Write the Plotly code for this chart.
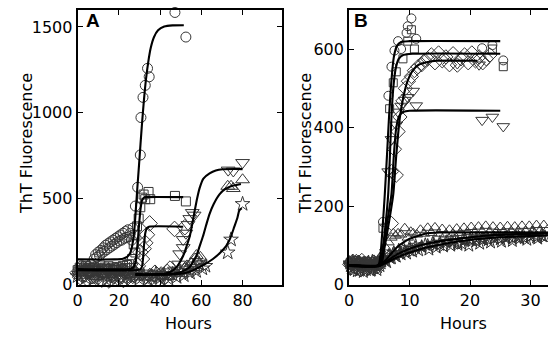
import plotly.graph_objects as go

# ---------------- Panel A data ----------------
A_circ_t = [0.5,2,3.5,5,6.5,8,8.7,9.3,10,10.6,11.2,11.8,12.4,13,13.6,14.2,14.8,15.4,16,16.6,17.2,17.8,18.4,19,19.6,20.2,20.8,21.4,22,22.6,23.2,23.8,24.4,25,25.6,26.2,26.8,28,29.1,30.4,30.7,31.7,32.8,33.9,34.7,47.2,52.5]
A_circ_v = [95,110,90,105,120,150,175,160,190,170,200,185,215,195,230,205,240,215,250,225,260,235,270,245,280,255,290,260,300,270,310,275,320,280,300,260,330,458,567,755,973,1090,1160,1259,1210,1584,1441]
A_circ_fit_t = [0,18,22,24,25.5,26.5,27.5,28.3,29,29.8,30.5,31.3,32.2,33.2,34.3,35.5,37,39,42,46,51.5]
A_circ_fit_v = [148,148,152,162,185,230,320,450,570,700,820,950,1080,1200,1300,1380,1440,1480,1502,1509,1510]

A_sq_t = [0,1,2,3,4,5,6,7,8,9,10,11,12,13,14,15,16,17,18,19,20,21,22,23,24,25,26.4,27.2,28,28,28.8,29.6,30.4,31.2,32,32.8,34.4,35.2,47.2,52.5]
A_sq_v = [85,100,78,95,110,82,98,90,105,80,96,112,88,100,84,108,92,99,86,104,95,90,110,98,115,120,150,235,188,291,340,385,451,507,525,498,540,498,517,485]
A_sq_fit_t = [0,25,27,28,29,29.8,30.5,31.2,32.2,33.5,51.2]
A_sq_fit_v = [92,92,100,130,230,350,440,490,507,510,510]

A_di_t = [0,1.2,2.4,3.5,4.6,5.8,7,8.2,9.4,10.5,11.7,12.8,14,15.2,16.4,17.5,18.7,19.8,21,22.2,23.4,24.5,25.7,26.8,28,29.2,30.4,31.2,32,32.8,33.6,34.9,36,37.5,39,40.5,42,43.5,44.8,47,52]
A_di_v = [70,45,88,60,35,75,50,92,40,65,30,80,55,25,70,48,85,38,60,28,75,45,90,52,68,110,190,150,210,244,291,357,45,70,35,60,42,75,94,325,335]
A_di_fit_t = [0,29,30.5,31.2,31.7,32.2,32.8,33.6,34.6,51.2]
A_di_fit_v = [85,86,92,105,150,230,300,330,338,338]

A_td_t = [0.5,2,3.5,5,6.5,8,9.5,11,12.5,14,15.5,17,18.5,20,21.5,23,24.5,26,27.5,29,31,33,35,37,39,41,43,45,47,49,49.5,51.2,51.2,52.5,53.5,54.4,55.6,56.5,73,75.5,80]
A_td_v = [60,85,50,95,70,40,88,62,100,55,78,45,92,65,38,80,58,105,48,72,55,40,68,50,62,45,75,58,85,120,180,216,263,300,350,385,420,405,667,662,711]
A_td_fit_t = [28,42,45,48,51.2,53,54.4,55.6,56.8,58,59.2,61,64,67,70.4,80]
A_td_fit_v = [62,64,75,103,169,230,282,355,432,505,564,618,648,665,672,673]

A_tu_t = [1,3,5,7,9,11,13,15,17,19,21,23,25,27,29,32,35,38,41,44,47,49,50.5,52,53,54,55,56,57,57.6,58.5,59.5,72.8,74.4,75.5,80]
A_tu_v = [75,55,90,62,48,80,58,95,45,70,52,85,60,78,50,45,62,40,55,48,70,85,65,95,110,80,125,100,150,170,135,160,573,573,560,611]
A_tu_fit_t = [28,45,49.6,52,54.4,56,57.6,59.2,60.8,62.4,64,66,68.8,71.5,74.4,77,79.2]
A_tu_fit_v = [60,62,71,85,103,135,169,225,282,350,413,470,526,556,573,580,586]

A_st_t = [0,2,4,6,8,10,12,14,16,18,20,22,24,26,28,30,32,34,36,38,40,42,44,46,48,50,51.5,53,54.5,56,57.5,59,60.5,62,72.8,74.4,80]
A_st_v = [50,72,40,65,35,80,55,30,68,45,75,38,60,42,70,35,55,30,48,65,40,58,35,62,45,75,55,90,70,105,80,120,95,110,188,263,470]
A_st_fit_t = [28,45,50,54,57.6,61,65.6,69,72,74,76,77.5,78.4,79.6]
A_st_fit_v = [58,60,65,75,94,115,150,185,225,270,338,390,432,445]

A_xticks = [0, 20, 40, 60, 80]
A_yticks = [0, 500, 1000, 1500]

# ---------------- Panel B data ----------------
B_circ_t = [0,0.5,1,1.5,2,2.5,3,3.5,4,4.5,5,5.6,6.5,7,7.5,8.1,8.6,9.5,9.7,10.3,11.1,22,23.7,25.5]
B_circ_v = [55,60,52,58,50,56,48,54,50,57,60,160,481,555,596,620,600,641,658,678,626,602,610,571]
B_circ_fit_t = [0,4.8,5.2,5.6,5.9,6.3,6.6,7,7.4,7.9,8.6,10,25]
B_circ_fit_v = [50,50,80,160,230,340,427,520,580,608,618,620,620]

B_sq_t = [0.2,0.7,1.2,1.7,2.2,2.7,3.2,3.7,4.2,4.7,5.2,5.6,6.7,7.3,7.8,8.9,9.7,10.3,10.8,23.7,25.5]
B_sq_v = [58,50,62,54,47,60,52,45,58,50,62,144,448,514,542,575,620,649,600,600,555]
B_sq_fit_t = [0,5,5.5,6,6.46,6.75,7,7.3,7.7,8.2,9,10.5,25]
B_sq_fit_v = [50,50,85,150,230,330,427,500,550,575,585,588,588]

B_di_t = [0.1,0.6,1.1,1.6,2.1,2.6,3.1,3.6,4.1,4.6,5.1,7.0,7.0,7.5,7.8,8.1,8.4,8.9,9.3,9.8,10.3,10.8,11.4,12,12.5,13,13.6,14.2,14.8,15.4,16,16.6,17.2,17.9,18.5,19.1,19.7,20.3,20.9,21.5,22.1,22.7,23.3]
B_di_v = [52,60,48,56,62,45,55,50,58,46,55,156,288,345,279,390,427,468,500,518,530,545,555,560,571,575,585,565,590,570,580,560,588,559,575,585,565,590,570,580,565,575,585]
B_di_fit_t = [0,5.2,5.8,6.6,7.3,7.8,8.4,9,9.7,10.5,11.5,13,14.5,21.2]
B_di_fit_v = [50,50,90,160,230,330,427,480,520,545,560,567,570,570]

B_td_t = [0.3,0.8,1.3,1.8,2.3,2.8,3.3,3.8,4.3,4.8,6.45,7,7.8,8.1,8.6,9.2,9.7,10.6,11.1,17.9,21.5,22,23.7,25.5]
B_td_v = [50,58,45,60,52,48,62,55,44,58,288,370,407,440,455,470,477,493,456,563,560,419,427,403]
B_td_fit_t = [0,5.1,5.6,6.3,7,7.4,7.8,8.3,9,10,25]
B_td_fit_v = [50,50,90,160,230,330,400,430,440,443,443]

B_tu_t = [0,0.4,0.8,1.2,1.6,2,2.4,2.8,3.2,3.6,4,4.4,4.8,5.2,5.6,6,6.5,7,7.3,7.7,8.1,8.6,9.2,9.7,10.2,10.6,
          11.2,11.8,12.4,13,13.6,14.2,14.8,15.4,16,16.6,17.2,17.8,18.4,19,19.6,20.2,20.8,21.4,22,22.6,
          23.2,23.8,24.4,25,25.6,26.2,26.8,27.4,28,28.6,29.2,29.8,30.4,31,31.6,32.2,32.8]
B_tu_v = [62,55,48,65,58,50,60,45,57,52,63,48,58,70,80,95,108,120,131,125,131,128,144,120,135,131,
          128,140,130,145,132,146,130,142,128,140,130,143,132,145,134,147,133,148,135,150,
          134,148,136,147,135,149,136,148,137,150,136,150,137,152,138,152,140]
B_tu_fit_t = [0,5,6,7,8,9,10,11.5,13,15,34]
B_tu_fit_v = [50,50,62,80,97,108,117,125,131,133,133]

B_st_t = [0.1,0.35,0.6,0.85,1.1,1.35,1.6,1.85,2.1,2.35,2.6,2.85,3.1,3.35,3.6,3.85,4.1,4.35,4.6,4.85,
          5.1,5.4,5.8,6.2,6.6,7,7.4,7.8,8.2,8.6,9,9.5,10,10.5,11,11.5,12,
          12.6,13.2,13.8,14.4,15,15.6,16.2,16.8,17.4,18,18.6,19.2,19.8,20.4,21,21.6,22.2,22.8,23.4,24,
          24.6,25.2,25.8,26.4,27,27.6,28.2,28.8,29.4,30,30.6,31.2,31.8,32.4,33]
B_st_v = [55,42,60,38,50,35,58,40,47,33,55,38,45,52,36,60,42,50,38,55,
          48,60,65,58,75,68,82,72,88,78,92,80,95,85,100,88,96,
          102,90,105,95,108,98,110,100,112,102,105,115,100,112,118,105,115,120,108,118,
          122,110,120,125,112,122,118,126,115,124,128,118,126,122,128]
B_st_fit_t = [0,5,6,7,8,9.7,11,13.6,16,19,22,24.5,28,34]
B_st_fit_v = [48,48,58,68,78,90,97,107,113,119,124,127,129,131]

B_st2_t = [0.2,0.7,1.2,1.7,2.2,2.7,3.2,3.7,4.2,4.7,5.3,6,6.8,7.6,8.4,9.2,10,11,12,13,14,15,16,17,18,19,20,21,22,23,24,25,26,27,28,29,30,31,32,33]
B_st2_v = [48,40,55,36,50,44,58,38,52,45,55,62,68,74,80,84,88,93,97,100,104,102,108,110,106,112,115,111,117,114,119,116,120,118,122,119,123,121,124,122]
B_st2_fit_t = [0,5,6,8,10,12,15,18,21,25,30,34]
B_st2_fit_v = [48,48,55,70,82,92,102,110,116,121,124,126]

B_xticks = [0, 10, 20, 30]
B_yticks = [0, 200, 400, 600]

MC = '#363636'

fig = go.Figure()

def marks(t, v, sym, size, xa, ya, col=MC):
    fig.add_trace(go.Scatter(x=t, y=v, mode='markers', xaxis=xa, yaxis=ya,
                             cliponaxis=False, showlegend=False,
                             marker=dict(symbol=sym, size=size, color=col,
                                         line=dict(color=col, width=1))))

def fit(t, v, xa, ya):
    fig.add_trace(go.Scatter(x=t, y=v, mode='lines', xaxis=xa, yaxis=ya,
                             cliponaxis=True, showlegend=False,
                             line=dict(color='black', width=2.1, shape='spline', smoothing=0.6)))

# Panel A markers
marks(A_di_t, A_di_v, 'diamond-open', 12, 'x', 'y')
marks(A_sq_t, A_sq_v, 'square-open', 9, 'x', 'y')
marks(A_td_t, A_td_v, 'triangle-down-open', 12, 'x', 'y')
marks(A_tu_t, A_tu_v, 'triangle-up-open', 12, 'x', 'y')
marks(A_st_t, A_st_v, 'star-open', 11, 'x', 'y')
marks(A_circ_t, A_circ_v, 'circle-open', 10, 'x', 'y')
for t, v in [(A_circ_fit_t, A_circ_fit_v), (A_sq_fit_t, A_sq_fit_v), (A_di_fit_t, A_di_fit_v),
             (A_td_fit_t, A_td_fit_v), (A_tu_fit_t, A_tu_fit_v), (A_st_fit_t, A_st_fit_v)]:
    fit(t, v, 'x', 'y')

# Panel B markers
marks(B_st2_t, B_st2_v, 'star-open', 10, 'x2', 'y2', '#2e2e2e')
marks(B_st_t, B_st_v, 'star-open', 10, 'x2', 'y2', '#2e2e2e')
marks(B_tu_t, B_tu_v, 'triangle-up-open', 10, 'x2', 'y2')
marks(B_di_t, B_di_v, 'diamond-open', 11, 'x2', 'y2')
marks(B_td_t, B_td_v, 'triangle-down-open', 11, 'x2', 'y2')
marks(B_sq_t, B_sq_v, 'square-open', 8, 'x2', 'y2')
marks(B_circ_t, B_circ_v, 'circle-open', 9, 'x2', 'y2')
for t, v in [(B_circ_fit_t, B_circ_fit_v), (B_sq_fit_t, B_sq_fit_v), (B_di_fit_t, B_di_fit_v),
             (B_td_fit_t, B_td_fit_v), (B_tu_fit_t, B_tu_fit_v), (B_st_fit_t, B_st_fit_v),
             (B_st2_fit_t, B_st2_fit_v)]:
    fit(t, v, 'x2', 'y2')

tickfont = dict(family='DejaVu Sans', size=16, color='black')
axcommon = dict(showgrid=False, zeroline=False, showline=True, linecolor='black', linewidth=2,
                ticks='inside', ticklen=5, tickwidth=1, tickcolor='black', tickfont=tickfont)

W, H = 548, 345
fig.update_layout(
    width=W, height=H, margin=dict(l=0, r=0, t=0, b=0),
    paper_bgcolor='white', plot_bgcolor='white',
    xaxis=dict(domain=[73.3/W, 279.3/W], range=[0, 99], tickvals=A_xticks, mirror='ticks',
               anchor='y', **axcommon),
    yaxis=dict(domain=[1-293.3/H, 1-10/H], range=[0, 1600], tickvals=A_yticks, mirror='ticks',
               anchor='x', **axcommon),
    xaxis2=dict(domain=[347.3/W, 1.0], range=[0, 32.9], tickvals=B_xticks, mirror='ticks',
                anchor='y2', **axcommon),
    yaxis2=dict(domain=[1-293.3/H, 1-10/H], range=[0, 700], tickvals=B_yticks, mirror=False,
                anchor='x2', **axcommon),
)

lab = dict(family='DejaVu Sans', size=16, color='black')
ann = [
    dict(x=21/W, y=1-147.5/H, text='ThT Fluorescence', textangle=-90, font=lab),
    dict(x=302.5/W, y=1-147.5/H, text='ThT Fluorescence', textangle=-90, font=lab),
    dict(x=185.5/W, y=1-333/H, text='Hours', font=lab),
    dict(x=463/W, y=1-333/H, text='Hours', font=lab),
    dict(x=88.5/W, y=1-21.5/H, text='<b>A</b>', font=dict(family='Liberation Sans', size=19, color='black')),
    dict(x=359/W, y=1-21/H, text='<b>B</b>', font=dict(family='Liberation Sans', size=19, color='black')),
]
fig.update_layout(annotations=[dict(xref='paper', yref='paper', showarrow=False,
                                    xanchor='center', yanchor='middle', **a) for a in ann])

fig.write_html('out.html')
